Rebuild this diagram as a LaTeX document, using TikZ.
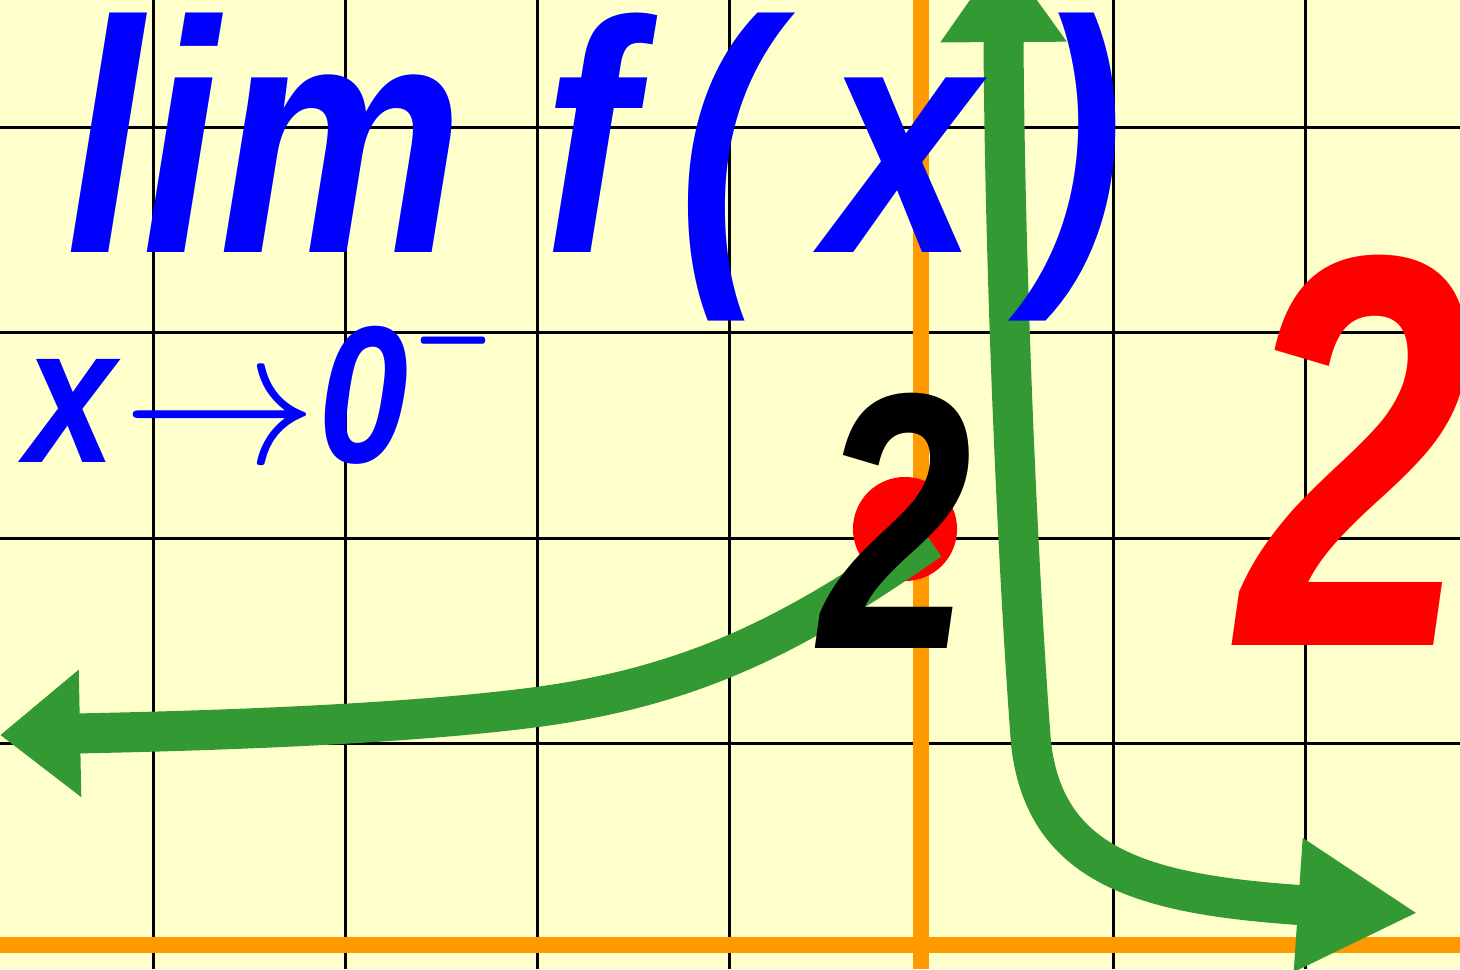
\documentclass[tikz,border=0pt]{standalone}
\DeclareFontFamily{OMS}{cmsy}{\skewchar\font48}
\DeclareFontShape{OMS}{cmsy}{m}{n}{<->cmsy10}{}
\DeclareFontShape{OMS}{cmsy}{b}{n}{<->cmbsy10}{}
\usepackage{fontspec}
\newfontfamily\limfont[FakeStretch=0.83]{Liberation Sans}
\newfontfamily\twofont[FakeStretch=0.75]{Liberation Sans}
\usetikzlibrary{arrows.meta}
\definecolor{paper}{RGB}{255,255,204}
\definecolor{plotgreen}{RGB}{51,153,51}
\definecolor{axisorange}{RGB}{255,153,0}
\tikzset{
  gridl/.style={line width=0.03cm,black},
  axisl/.style={line width=0.16cm,axisorange},
  branch/.style={line width=0.4cm,plotgreen},
  holedot/.style={circle,fill=red,inner sep=0pt,minimum size=1.04cm},
  titletxt/.style={inner sep=0pt,anchor=base west,text=blue,font=\limfont\bfseries\itshape\fontsize{94}{94}\selectfont},
  condtxt/.style={inner sep=0pt,anchor=base west,text=blue,font=\limfont\bfseries\itshape\fontsize{55.5}{56}\selectfont},
  smalltwo/.style={inner sep=0pt,anchor=base west,text=black,font=\twofont\bfseries\itshape\fontsize{104}{104}\selectfont},
  bigtwo/.style={inner sep=0pt,anchor=base west,text=red,font=\twofont\bfseries\itshape\fontsize{159}{159}\selectfont}
}

\begin{document}
\begin{tikzpicture}[x=0.01cm,y=-0.01cm]
  \useasboundingbox (0,0) rectangle (1460,969);
  \clip (0,0) rectangle (1460,969);
  \fill[paper] (0,0) rectangle (1460,969);

  \draw[gridl] (153,0) -- (153,969);
  \draw[gridl] (345,0) -- (345,969);
  \draw[gridl] (537,0) -- (537,969);
  \draw[gridl] (729,0) -- (729,969);
  \draw[gridl] (1113,0) -- (1113,969);
  \draw[gridl] (1305,0) -- (1305,969);
  \draw[gridl] (0,127) -- (1460,127);
  \draw[gridl] (0,332) -- (1460,332);
  \draw[gridl] (0,538) -- (1460,538);
  \draw[gridl] (0,743) -- (1460,743);
  \draw[axisl] (921,0) -- (921,969);
  \draw[axisl] (0,945) -- (1460,945);

  \node[holedot] (hole) at (905,529) {};

  \coordinate (lstart) at (930,540);
  \coordinate (lmid) at (537,707);
  \coordinate (lend) at (0,735);
  \draw[branch,-{Triangle[length=0.8cm,width=1.22cm]}] (lstart) .. controls (800,630) and (700,685) .. (lmid)
    .. controls (400,725) and (200,731) .. (lend);

  \coordinate (rtop) at (1003,-48);
  \coordinate (rknee) at (1031,743);
  \coordinate (rend) at (1418,913);
  \draw[branch,{Triangle[length=0.9cm,width=1.2cm]}-{Triangle[length=1.2cm,width=1.25cm]}] (rtop) .. controls (1005,300) and (1020,600) .. (rknee)
    .. controls (1045,870) and (1150,895) .. (rend);

  \node[titletxt] (lim) at (66,252) {lim};
  \node[titletxt] (fn) at (543,252) {f};
  \node[titletxt] (lpar) at (678,252) {(};
  \node[titletxt] (xvar) at (825,252) {x};
  \node[titletxt] (rpar) at (1032,252) {)};
  \node[condtxt] (cond) at (25,462) {x\hspace{2pt}\raisebox{-0.5pt}{$\rightarrow$}0\hspace{1.2pt}\raisebox{21.8pt}{\fontsize{30}{30}\selectfont\scalebox{1}[1.7]{$-$}}};

  \node[smalltwo] (lval) at (819,648) {2};
  \node[bigtwo] (rval) at (1238,645) {2};
\end{tikzpicture}
\end{document}
